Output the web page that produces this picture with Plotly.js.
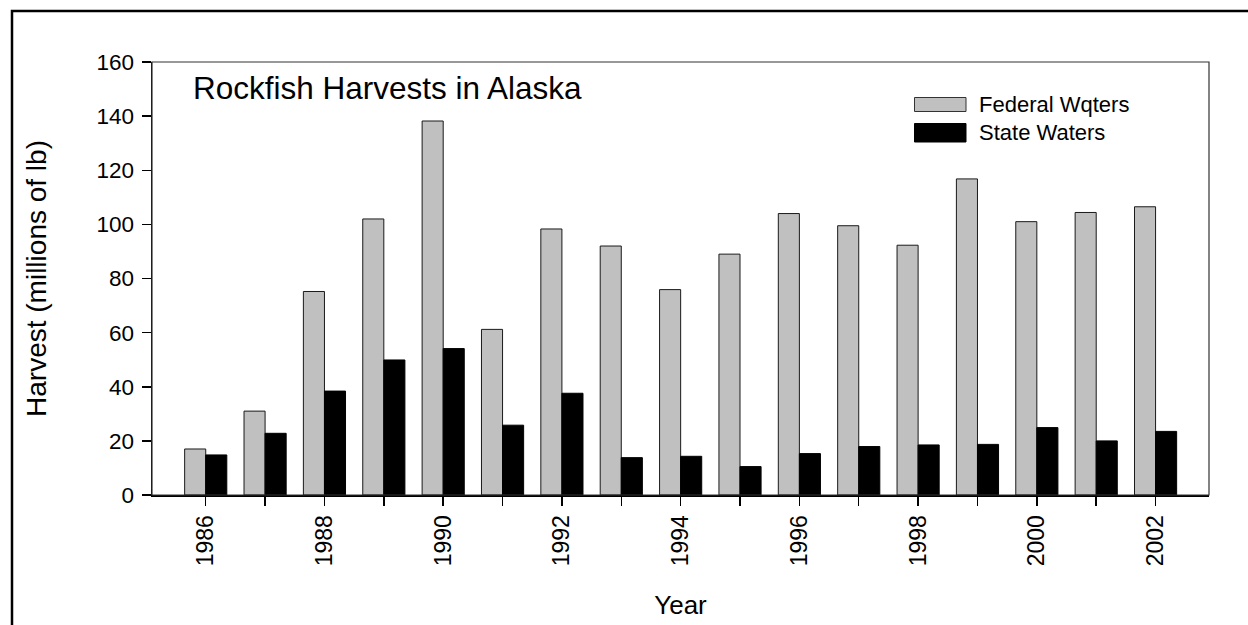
<!DOCTYPE html>
<html>
<head>
<meta charset="utf-8">
<script src="https://cdn.plot.ly/plotly-3.0.1.min.js"></script>
<style>
  html, body { margin: 0; padding: 0; background: #fff; }
  #chart { width: 1248px; height: 625px; }
</style>
</head>
<body>
<div id="chart"></div>
<script>
// ---- data ----
const years = ["1986","1987","1988","1989","1990","1991","1992","1993","1994","1995","1996","1997","1998","1999","2000","2001","2002"];
const tickLabels = ["1986","","1988","","1990","","1992","","1994","","1996","","1998","","2000","","2002"];
const federalWaters = [17, 31, 75.2, 102, 138.2, 61.2, 98.3, 92, 75.9, 89, 104, 99.5, 92.3, 116.8, 101, 104.4, 106.5];
const stateWaters = [14.8, 22.8, 38.4, 49.9, 54.1, 25.8, 37.6, 13.8, 14.3, 10.5, 15.3, 17.9, 18.5, 18.7, 24.9, 20, 23.5];
const seriesNames = ["Federal Wqters", "State Waters"];
const chartTitle = "Rockfish Harvests in Alaska";
const xTitle = "Year";
const yTitle = "Harvest (millions of lb)";

// ---- geometry helpers (pixel -> paper) ----
const L = 152, R = 1209, T = 62, B = 495;
const px = x => (x - L) / (R - L);
const py = y => (B - y) / (B - T);

const FONT = "Liberation Sans, Arial, Helvetica, sans-serif";

const traces = [
  {
    type: "bar", name: seriesNames[0], x: years, y: federalWaters,
    marker: { color: "#c0c0c0", line: { color: "#1a1a1a", width: 1 } },
    hoverinfo: "x+y+name"
  },
  {
    type: "bar", name: seriesNames[1], x: years, y: stateWaters,
    marker: { color: "#000000", line: { color: "#000000", width: 1 } },
    hoverinfo: "x+y+name"
  }
];

const layout = {
  width: 1248, height: 625,
  margin: { l: L, r: 1248 - R, t: T, b: 625 - B, pad: 0 },
  paper_bgcolor: "#ffffff", plot_bgcolor: "#ffffff",
  font: { family: FONT, color: "#000", size: 22 },
  showlegend: false,
  barmode: "group", bargap: 0.29, bargroupgap: 0,
  title: {
    text: chartTitle, font: { family: FONT, size: 31.5, color: "#000" },
    xref: "paper", yref: "paper", x: px(193), y: py(88),
    xanchor: "left", yanchor: "middle"
  },
  xaxis: {
    type: "category", range: [-0.905, 16.9],
    tickmode: "array", tickvals: years, ticktext: tickLabels,
    tickangle: -90, ticks: "outside", ticklen: 9, tickwidth: 1.5, tickcolor: "#000",
    ticklabelstandoff: 0,
    tickfont: { family: FONT, size: 23, color: "#000" },
    showline: true, linecolor: "#000", linewidth: 2,
    showgrid: false, zeroline: false, fixedrange: true,
    title: { text: xTitle, font: { family: FONT, size: 26, color: "#000" }, standoff: 30 }
  },
  yaxis: {
    range: [0, 160], dtick: 20, tick0: 0,
    ticks: "outside", ticklen: 9, tickwidth: 1.5, tickcolor: "#000",
    ticklabelstandoff: 3,
    tickfont: { family: FONT, size: 22.5, color: "#000" },
    showline: true, linecolor: "#000", linewidth: 1.5,
    showgrid: false, zeroline: false, fixedrange: true,
    title: { text: yTitle, font: { family: FONT, size: 28, color: "#000" }, standoff: 41 }
  },
  shapes: [
    // plot frame (top / right)
    { type: "rect", xref: "paper", yref: "paper", x0: 0, x1: 1, y0: 0, y1: 1,
      line: { color: "#333", width: 1.2 }, layer: "above" },
    // outer figure border
    { type: "rect", xref: "paper", yref: "paper",
      x0: px(12), x1: px(1300), y0: py(700), y1: py(11),
      line: { color: "#000", width: 2.5 }, layer: "above" },
    // legend swatches
    { type: "rect", xref: "paper", yref: "paper",
      x0: px(914.5), x1: px(966), y0: py(111.5), y1: py(97.5),
      fillcolor: "#c0c0c0", line: { color: "#333", width: 1 } },
    { type: "rect", xref: "paper", yref: "paper",
      x0: px(914.5), x1: px(966), y0: py(142), y1: py(123.5),
      fillcolor: "#000", line: { color: "#000", width: 1 } }
  ],
  annotations: [
    { xref: "paper", yref: "paper", x: px(977), y: py(104.5), xanchor: "left", yanchor: "middle",
      text: seriesNames[0], showarrow: false, font: { family: FONT, size: 22, color: "#000" } },
    { xref: "paper", yref: "paper", x: px(977), y: py(132.5), xanchor: "left", yanchor: "middle",
      text: seriesNames[1], showarrow: false, font: { family: FONT, size: 22, color: "#000" } }
  ]
};

Plotly.newPlot("chart", traces, layout, { displayModeBar: false, staticPlot: true });
</script>
</body>
</html>
